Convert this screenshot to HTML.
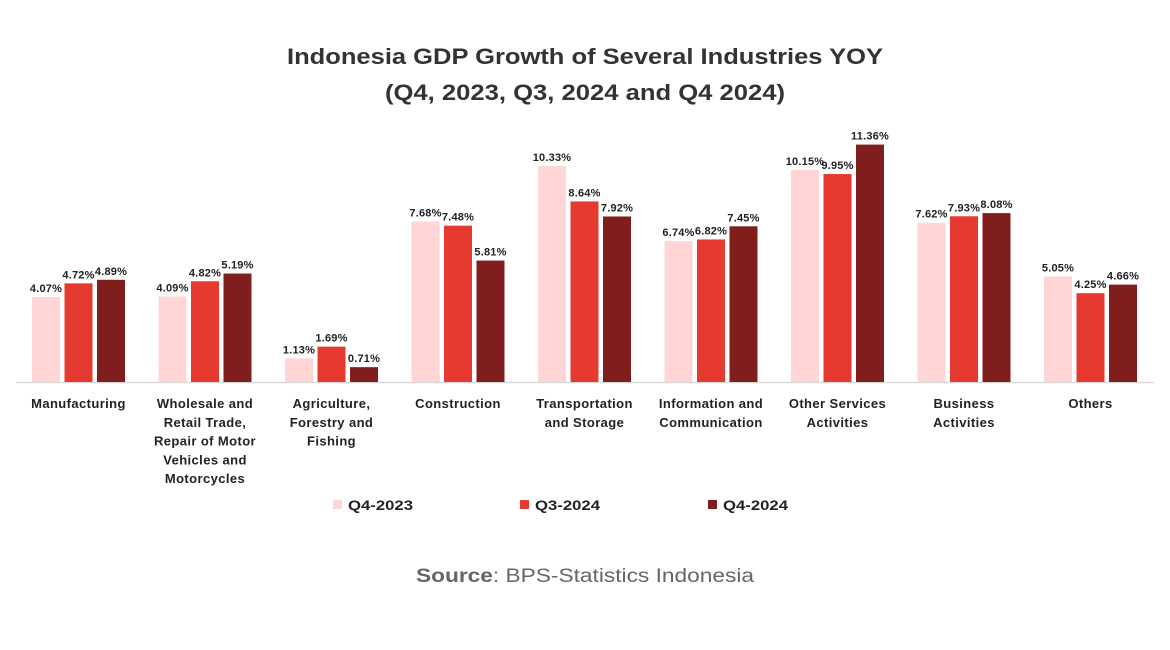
<!DOCTYPE html>
<html><head><meta charset="utf-8"><style>
html,body{margin:0;padding:0;background:#fff;}
svg{display:block;font-family:"Liberation Sans",sans-serif;}
</style></head><body>
<svg id="c" width="1170" height="650" xmlns="http://www.w3.org/2000/svg">
<rect width="1170" height="650" fill="#fff"/>
<text x="585" y="64" text-anchor="middle" font-size="22" font-weight="bold" fill="#333" textLength="596" lengthAdjust="spacingAndGlyphs">Indonesia GDP Growth of Several Industries YOY</text>
<text x="585" y="100" text-anchor="middle" font-size="22" font-weight="bold" fill="#333" textLength="400" lengthAdjust="spacingAndGlyphs">(Q4, 2023, Q3, 2024 and Q4 2024)</text>
<line x1="16" y1="382.5" x2="1154" y2="382.5" stroke="#d9d9d9" stroke-width="1.5"/>
<g id="bars"></g>
<rect x="333" y="500" width="9" height="9" fill="#FFD5D5"/>
<text x="348" y="510" font-size="14" font-weight="bold" fill="#222" textLength="65" lengthAdjust="spacingAndGlyphs">Q4-2023</text>
<rect x="520" y="500" width="9" height="9" fill="#E63A30"/>
<text x="535" y="510" font-size="14" font-weight="bold" fill="#222" textLength="65" lengthAdjust="spacingAndGlyphs">Q3-2024</text>
<rect x="708" y="500" width="9" height="9" fill="#801E1E"/>
<text x="723" y="510" font-size="14" font-weight="bold" fill="#222" textLength="65" lengthAdjust="spacingAndGlyphs">Q4-2024</text>
<text x="585" y="582" text-anchor="middle" font-size="19" fill="#666" textLength="338" lengthAdjust="spacingAndGlyphs"><tspan font-weight="bold">Source</tspan>: BPS-Statistics Indonesia</text>
</svg>
<script>
var data=[
[[4.07,4.72,4.89],["Manufacturing"]],
[[4.09,4.82,5.19],["Wholesale and","Retail Trade,","Repair of Motor","Vehicles and","Motorcycles"]],
[[1.13,1.69,0.71],["Agriculture,","Forestry and","Fishing"]],
[[7.68,7.48,5.81],["Construction"]],
[[10.33,8.64,7.92],["Transportation","and Storage"]],
[[6.74,6.82,7.45],["Information and","Communication"]],
[[10.15,9.95,11.36],["Other Services","Activities"]],
[[7.62,7.93,8.08],["Business","Activities"]],
[[5.05,4.25,4.66],["Others"]]];
var cols=["#FFD5D5","#E63A30","#801E1E"];
var s="";
data.forEach(function(d,i){
 var x0=32+126.5*i;
 d[0].forEach(function(v,j){
  var h=v*20.9,x=x0+32.5*j,t=382-h;
  s+='<rect x="'+x+'" y="'+t+'" width="28" height="'+h+'" fill="'+cols[j]+'"/>';
  s+='<text x="'+(x+14)+'" y="'+(t-5)+'" text-anchor="middle" font-size="11" font-weight="bold" fill="#222" style="letter-spacing:0.2px">'+v.toFixed(2)+'%</text>';
 });
 var cx=x0+46.5;
 d[1].forEach(function(l,k){
  s+='<text x="'+cx+'" y="'+(408+18.8*k)+'" text-anchor="middle" font-size="13" font-weight="bold" fill="#222" style="letter-spacing:0.4px">'+l+'</text>';
 });
});
document.getElementById("bars").innerHTML=s;
</script>
</body></html>
